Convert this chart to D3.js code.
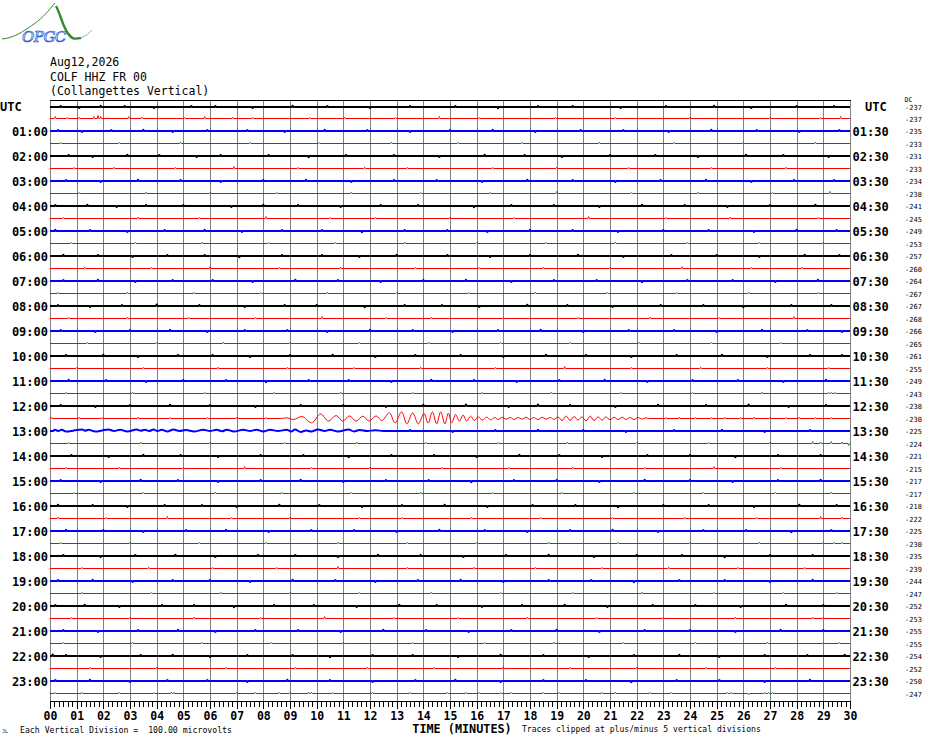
<!DOCTYPE html>
<html>
<head>
<meta charset="utf-8">
<script src="https://cdn.jsdelivr.net/npm/d3@7"></script>
<style>
  body { margin: 0; background: #fff; }
  svg { display: block; }
  text { font-family: "DejaVu Sans Mono", "Liberation Mono", monospace; fill: #000; }
</style>
</head>
<body>
<svg id="heli" width="930" height="744"></svg>
<script>
// Helicorder COLF HHZ : 48 traces de 30 minutes, une journée UTC.

const headerLines = ['Aug12,2026', 'COLF HHZ FR 00', '(Collangettes Vertical)'];
const hourLabels = ['UTC', '01:00', '02:00', '03:00', '04:00', '05:00', '06:00', '07:00', '08:00', '09:00', '10:00', '11:00',
  '12:00', '13:00', '14:00', '15:00', '16:00', '17:00', '18:00', '19:00', '20:00', '21:00', '22:00', '23:00'];
const halfHourLabels = ['UTC', '01:30', '02:30', '03:30', '04:30', '05:30', '06:30', '07:30', '08:30', '09:30', '10:30', '11:30',
  '12:30', '13:30', '14:30', '15:30', '16:30', '17:30', '18:30', '19:30', '20:30', '21:30', '22:30', '23:30'];
const dcOffsets = [-237, -237, -235, -233, -231, -233, -234, -238, -241, -245, -249, -253, -257, -260, -264, -267,
  -267, -268, -266, -265, -261, -255, -249, -243, -238, -230, -225, -224, -221, -215, -217, -217,
  -218, -222, -225, -230, -235, -239, -244, -247, -252, -253, -255, -255, -254, -252, -250, -247];
const traceColors = ['#000000', '#ff0000', '#0000ff', '#008000'];
const minuteTicks = d3.range(0, 31);

// petites impulsions de bruit par trace : [minute, microvolts]
const traceSpikes = [
  [[0.4,8],[1.1,-8],[1.9,10],[2.8,8],[3.9,-8],[5.3,8],[6.2,8],[7.6,-8],[9.1,10],[10.4,8],[12.0,-8],[13.5,8],[15.2,8],[16.8,-10],[18.3,8],[19.6,8],[21.4,-8],[23.1,8],[24.9,10],[26.3,-8],[28.0,8],[29.4,8]],
  [[0.2,16],[0.65,8],[1.1,10],[1.65,16],[1.8,24],[1.9,16],[2.95,16],[3.45,10],[5.05,8],[5.8,16],[6.85,10],[7.6,8],[9.75,8],[11.05,10],[12.95,8],[14.6,16],[16.1,8],[18.95,10],[21.2,8],[24.0,10],[27.0,8],[28.9,8],[29.65,16]],
  [[0.3,8],[1.2,-8],[2.3,8],[3.5,10],[4.6,-8],[5.9,8],[7.4,8],[8.8,-8],[10.3,10],[11.9,8],[13.5,-8],[15.0,8],[16.6,10],[18.2,-8],[19.9,8],[21.5,8],[23.2,-8],[24.8,10],[26.5,8],[28.1,-8],[29.6,8]],
  [[0.4,8],[2.6,8],[4.9,10],[7.5,8],[10.1,8],[12.8,10],[15.3,8],[17.7,8],[20.6,10],[23.4,8],[26.0,8],[28.7,10]],
  [[0.7,8],[1.6,-8],[2.9,10],[4.1,8],[5.5,-8],[6.4,8],[8.2,8],[9.7,-10],[11.1,8],[12.9,8],[14.6,-8],[16.3,10],[17.8,8],[19.2,-8],[21.0,8],[22.7,8],[24.3,-8],[26.1,10],[27.5,8],[29.2,-8]],
  [[0.9,8],[2.4,10],[4.7,8],[6.9,16],[9.3,8],[11.8,10],[13.4,8],[16.6,8],[19.0,10],[21.7,8],[24.8,8],[27.6,10]],
  [[0.6,8],[1.9,-8],[3.3,10],[4.9,8],[6.4,-8],[8.0,8],[9.6,10],[11.3,-8],[12.9,8],[14.5,8],[16.2,-8],[17.9,10],[19.6,8],[21.2,-8],[22.9,8],[24.6,10],[26.3,-8],[27.9,8],[29.4,8]],
  [[1.1,8],[3.6,10],[6.0,8],[8.5,8],[11.3,10],[13.9,8],[16.5,8],[19.0,16],[21.8,8],[24.3,10],[27.1,8],[29.25,16]],
  [[0.2,8],[1.4,10],[2.5,-8],[3.6,8],[5.0,8],[6.8,-8],[8.0,10],[9.3,8],[10.9,-8],[12.4,8],[13.8,8],[15.9,-10],[17.3,8],[18.9,8],[20.6,-8],[22.2,10],[23.8,8],[25.4,-8],[27.0,8],[28.7,10]],
  [[0.5,8],[3.3,10],[5.6,8],[8.1,16],[10.5,8],[12.2,8],[15.0,10],[17.4,8],[20.2,16],[23.1,8],[25.5,10],[28.8,8]],
  [[0.2,10],[1.5,8],[2.9,-8],[4.3,8],[5.8,10],[7.2,-8],[8.7,8],[10.2,8],[11.7,-10],[13.3,8],[14.9,8],[16.4,-8],[18.0,10],[19.6,8],[21.3,-8],[23.0,8],[24.7,8],[26.4,-8],[28.0,10],[29.5,8]],
  [[0.8,8],[3.2,8],[5.7,10],[8.2,8],[10.7,8],[13.3,10],[16.0,8],[18.6,8],[21.2,10],[23.9,8],[26.6,8],[29.0,10]],
  [[0.5,10],[1.8,8],[3.1,-8],[4.4,8],[5.8,8],[7.1,-10],[8.7,8],[10.2,8],[11.6,-8],[13.0,10],[14.9,8],[16.5,-8],[18.0,8],[19.8,10],[21.5,-8],[23.3,8],[25.0,8],[26.6,-8],[28.3,10],[29.6,8]],
  [[1.3,10],[3.8,8],[6.0,16],[8.6,8],[10.9,10],[13.7,8],[16.1,8],[18.5,10],[21.0,8],[23.7,16],[26.3,8],[28.2,10]],
  [[0.5,8],[1.8,10],[3.2,-8],[4.6,8],[6.1,8],[7.6,-8],[9.2,10],[10.8,8],[12.4,-8],[14.0,8],[15.6,10],[17.3,-8],[18.9,8],[20.5,8],[22.2,-10],[23.9,8],[25.6,8],[27.2,-8],[28.8,10]],
  [[0.3,8],[2.9,10],[5.4,8],[7.9,8],[10.4,10],[13.0,8],[15.7,8],[18.2,10],[20.9,8],[23.5,8],[26.2,10],[28.8,8]],
  [[0.3,8],[1.5,-8],[2.7,8],[4.0,12],[5.6,8],[7.3,-8],[8.8,8],[10.0,8],[11.8,-10],[13.3,8],[14.7,8],[16.1,-8],[17.9,10],[19.4,8],[21.1,-8],[22.9,8],[24.5,8],[26.0,-10],[27.8,8],[29.3,8]],
  [[0.7,8],[2.9,10],[5.2,8],[7.7,8],[10.2,16],[12.6,8],[14.3,10],[17.0,8],[19.8,8],[22.5,10],[25.1,8],[27.9,16]],
  [[0.4,8],[1.7,-8],[3.0,8],[4.5,10],[5.9,-8],[7.3,8],[8.9,8],[10.4,-8],[12.0,10],[13.6,8],[15.1,-8],[16.8,8],[18.4,10],[20.0,-8],[21.7,8],[23.4,8],[25.0,-8],[26.7,10],[28.4,8],[29.7,-8]],
  [[1.4,8],[4.0,8],[6.5,10],[9.0,8],[11.6,8],[14.2,10],[16.9,8],[19.5,8],[22.1,10],[24.8,8],[27.4,8]],
  [[0.6,8],[2.0,10],[3.3,-8],[4.8,8],[6.1,8],[7.5,-8],[9.0,8],[10.6,10],[12.2,-8],[13.7,8],[15.4,8],[17.0,-8],[18.6,10],[20.1,8],[21.8,-8],[23.5,8],[25.2,10],[26.9,-8],[28.5,8],[29.7,8]],
  [[1.0,8],[3.5,8],[6.3,10],[8.9,8],[11.4,8],[13.9,10],[16.7,8],[19.3,16],[21.8,8],[24.4,10],[26.9,8],[29.2,8]],
  [[0.7,10],[2.1,8],[3.6,-8],[5.0,8],[6.6,8],[8.1,-10],[9.7,8],[11.2,8],[12.8,-8],[14.3,10],[15.9,8],[17.5,-8],[19.1,8],[20.8,10],[22.4,-8],[24.1,8],[25.8,8],[27.5,-8],[29.1,10]],
  [[0.6,8],[3.1,10],[5.8,8],[8.4,8],[10.9,10],[13.6,8],[16.2,8],[18.8,10],[21.4,8],[24.1,8],[26.7,10],[29.2,8],[29.3,8],[29.45,8]],
  [[0.4,8],[1.7,-8],[3.0,8],[4.5,10],[6.0,8],[7.7,-8],[9.4,8],[11.0,8],[12.6,-8],[14.0,10],[15.6,12],[17.2,-8],[18.3,12],[19.5,8],[21.2,-8],[22.8,10],[24.6,8],[26.2,12],[27.7,-8],[29.1,8]],
  [[0.05,12],[1.1,10],[1.95,8],[3.3,10],[4.5,8],[5.9,8],[7.0,10],[8.1,8],[23.1,8],[23.6,10],[24.2,8],[24.8,8],[25.3,10],[25.9,8],[26.4,10],[27.0,8],[27.6,8],[28.1,10],[28.7,8],[29.3,8]],
  [[13.5,8],[15.1,-8],[16.7,8],[18.3,10],[20.0,8],[21.6,-8],[23.4,8],[25.2,10],[26.8,-8],[28.5,8]],
  [[0.7,8],[3.4,10],[6.0,8],[8.8,8],[11.5,10],[14.1,8],[16.8,8],[19.4,10],[22.0,8],[24.7,8],[27.0,10],[28.6,16],[28.9,12],[29.3,16],[29.7,12],[29.95,-16]],
  [[0.8,8],[2.2,-8],[3.5,10],[4.9,8],[6.3,-8],[7.9,8],[9.5,8],[11.2,-10],[12.8,8],[14.4,8],[16.0,-8],[17.6,10],[19.1,8],[20.7,-8],[22.4,8],[24.0,8],[25.7,-10],[27.3,8],[28.9,8]],
  [[0.6,8],[2.6,10],[5.0,8],[7.3,16],[9.8,8],[12.0,10],[14.7,8],[17.2,8],[19.6,10],[22.3,8],[24.9,16],[27.4,8]],
  [[0.4,8],[1.9,-8],[3.4,10],[4.8,8],[6.3,-8],[7.9,8],[9.4,10],[11.0,-8],[12.6,8],[14.2,8],[15.8,-10],[17.4,8],[19.0,8],[20.6,-8],[22.3,10],[24.0,8],[25.6,-8],[27.3,8],[28.9,10]],
  [[0.9,8],[3.5,8],[6.2,10],[8.7,8],[11.3,8],[13.9,10],[16.6,8],[19.2,8],[21.9,10],[24.5,8],[27.2,8],[29.3,12]],
  [[0.3,10],[1.6,8],[2.9,-8],[4.3,8],[5.7,8],[7.0,-8],[8.6,10],[10.1,8],[11.7,-8],[13.2,8],[14.8,10],[16.4,-8],[18.1,8],[19.7,8],[21.3,-10],[23.0,8],[24.7,8],[26.4,-8],[28.1,10],[29.5,8]],
  [[0.3,10],[2.1,8],[4.4,16],[6.8,8],[9.0,10],[11.6,8],[13.2,8],[15.8,10],[18.4,8],[21.1,8],[23.8,10],[26.5,8],[28.9,16],[29.7,10]],
  [[0.6,10],[2.0,8],[3.5,-8],[5.1,8],[6.6,10],[8.2,-8],[9.8,8],[11.4,8],[13.0,-8],[14.6,10],[16.3,8],[17.9,-8],[19.5,8],[21.1,10],[22.8,-8],[24.5,8],[26.1,8],[27.8,-10],[29.3,8]],
  [[0.4,8],[3.0,10],[5.6,8],[8.1,8],[10.8,10],[13.4,8],[16.0,8],[18.7,10],[21.3,8],[24.0,8],[26.6,10],[29.0,8],[29.4,8],[29.7,8]],
  [[0.5,8],[1.9,-8],[3.2,8],[4.7,10],[6.2,-8],[7.8,8],[9.2,8],[10.8,-8],[12.3,10],[13.9,8],[15.5,-8],[17.1,8],[18.7,10],[20.4,-8],[22.0,8],[23.7,8],[25.3,-10],[27.0,8],[28.6,8]],
  [[1.2,8],[3.7,10],[6.1,8],[8.5,8],[10.8,16],[13.4,8],[15.9,10],[18.2,8],[20.7,8],[23.2,10],[25.8,8],[28.3,8]],
  [[0.3,8],[1.6,10],[3.1,-8],[4.6,8],[6.0,8],[7.5,-8],[9.1,10],[10.7,8],[12.2,-8],[13.8,8],[15.4,10],[17.0,-8],[18.7,8],[20.3,8],[21.9,-10],[23.6,8],[25.3,8],[27.0,-8],[28.6,10]],
  [[1.2,8],[3.8,8],[6.4,10],[9.0,8],[11.6,8],[14.3,10],[16.9,8],[19.6,8],[22.2,10],[24.9,8],[27.5,8],[29.5,8]],
  [[0.2,8],[1.3,10],[2.6,-8],[4.2,8],[5.4,8],[6.9,-10],[8.4,8],[9.9,8],[11.5,-8],[13.1,10],[14.5,8],[16.2,-8],[17.7,8],[19.3,10],[20.9,-8],[22.6,8],[24.2,8],[25.9,-8],[27.6,10],[29.0,8]],
  [[0.8,8],[3.0,8],[5.4,10],[7.9,8],[10.3,16],[12.9,8],[15.3,8],[17.9,10],[20.5,8],[23.0,8],[25.7,10],[28.6,10],[29.0,10]],
  [[0.5,8],[1.8,-8],[3.3,8],[4.8,10],[6.2,-8],[7.7,8],[9.3,8],[10.9,-8],[12.5,10],[14.1,8],[15.7,-8],[17.3,8],[19.0,10],[20.6,-8],[22.3,8],[24.0,8],[25.7,-8],[27.4,10],[29.0,8]],
  [[0.5,8],[3.1,10],[5.7,8],[8.3,8],[11.0,10],[13.6,8],[16.3,8],[18.9,10],[21.5,8],[24.2,8],[26.9,10],[29.0,8],[29.6,8]],
  [[0.1,12],[0.6,8],[1.9,-8],[3.4,8],[4.6,10],[6.0,-8],[7.4,8],[9.1,8],[10.5,-10],[12.1,8],[13.6,8],[15.3,-8],[16.9,10],[18.5,8],[20.2,-8],[21.9,8],[23.6,10],[25.1,-8],[26.8,8],[28.4,8],[29.8,10]],
  [[1.5,8],[4.0,10],[6.6,8],[9.2,8],[11.9,10],[14.4,8],[17.0,16],[19.5,8],[22.0,10],[24.6,8],[27.2,8]],
  [[0.2,8],[1.5,10],[3.0,-8],[4.4,8],[5.9,8],[7.4,-8],[8.9,10],[10.5,8],[12.1,-8],[13.7,8],[15.2,10],[16.9,-8],[18.5,8],[20.1,8],[21.8,-10],[23.5,8],[25.1,8],[26.8,-8],[28.5,10]],
  [[0.19,8],[1.2,8],[2.6,8],[3.9,8],[4.55,10],[4.65,10],[7.0,10],[7.7,8],[8.6,8],[9.0,8],[9.7,10],[9.8,10],[10.6,8],[12.1,10],[13.5,8],[14.9,8],[15.6,8],[16.1,8],[16.9,8],[17.3,8],[18.5,8],[19.1,8],[20.7,8],[21.2,10],[22.5,8],[23.3,8],[25.4,8],[25.55,8],[26.2,-10],[26.8,8],[26.95,8],[27.1,8]]
];

const quakeRed = [
  [8.63,0],[8.88,5],[9.13,-8],[9.44,16],[9.81,-35],[10.15,37],[10.44,-21],[10.73,24],[10.98,-21],[11.23,21],
  [11.48,-21],[11.73,19],[11.96,-21],[12.23,21],[12.44,-16],[12.73,45],[12.94,-35],[13.19,53],[13.38,-43],[13.6,45],
  [13.81,-43],[14.03,40],[14.18,-37],[14.34,53],[14.5,-43],[14.65,53],[14.81,-43],[14.94,43],[15.06,-35],[15.21,32],
  [15.35,-21],[15.49,27],[15.63,-21],[15.77,19],[15.91,-16],[16.06,13],[16.21,-13],[16.38,11],[16.52,-11],[16.68,8],
  [16.8,-8],[16.96,10],[17.1,-5],[17.27,8],[17.4,-8],[17.56,8],[17.7,-5],[17.86,10],[18.0,-8],[18.13,8],
  [18.3,-8],[18.46,10],[18.6,-5],[18.77,8],[18.9,-8],[19.05,13],[19.2,-16],[19.36,19],[19.5,-16],[19.66,16],
  [19.8,-13],[19.94,13],[20.1,-19],[20.26,19],[20.4,-16],[20.56,13],[20.7,-13],[20.84,13],[21.0,-10],[21.16,10],
  [21.3,-8],[21.46,10],[21.6,-8],[21.74,8],[21.9,-8],[22.06,8],[22.2,-5],[22.34,5],[22.5,0]
];

// séisme : petites oscillations sur la trace 13:00 (bleue)
const quakeBlue = [
  [0.1,0],[0.19,10],[0.3,0],[0.44,10],[0.6,-4],[0.9,4],[1.2,12],[1.32,2],[1.44,10],[1.7,-4],
  [1.95,4],[2.19,12],[2.4,0],[2.63,10],[2.9,-4],[3.25,12],[3.4,2],[3.56,10],[3.72,0],[3.88,12],
  [4.03,0],[4.19,10],[4.4,-4],[4.63,12],[4.85,0],[5.1,8],[5.4,-4],[5.75,10],[6.0,0],[6.25,10],
  [6.45,-2],[6.63,10],[6.9,-4],[7.25,10],[7.5,0],[7.75,10],[8.0,-4],[8.25,10],[8.55,0],[8.88,10],
  [9.05,-4],[9.19,12],[9.4,-8],[9.6,4],[9.8,-4],[10.05,12],[10.3,0],[10.5,10],[10.8,-4],[11.2,12],
  [11.4,-4],[11.6,8],[11.9,0],[12.2,6],[12.5,0]
];
const waveByTrace = { 25: quakeRed, 26: quakeBlue };

const svg = d3.select('#heli');
const plotLeft = 50, plotRight = 850, plotTop = 100.5, axisY = 701;

const x = d3.scaleLinear().domain([0, 30]).range([plotLeft, plotRight]);
const traceY = d3.scaleLinear().domain([0, 47]).range([106.5, 693.5]);
// une division verticale = 100 µV = écart entre traces
const amp = d3.scaleLinear().domain([-100, 100]).range([12.5, -12.5]);

const isThick = i => i % 4 === 0 || i % 4 === 2;
// ligne de base calée sur la grille de pixels
const baseY = i => isThick(i) ? Math.round(traceY(i)) : Math.floor(traceY(i)) + 0.5;

// logo OPGC
const logo = svg.append('g').attr('class', 'logo');
logo.append('path')
  .attr('d', 'M2,39 C14,38 24,31 34,24 S48,11 55,3')
  .attr('fill', 'none').attr('stroke', '#2e8b2e').attr('stroke-width', 1);
logo.append('path')
  .attr('d', 'M56,6 C60,13 62,24 67,32 S75,39 81,38')
  .attr('fill', 'none').attr('stroke', '#2e8b2e').attr('stroke-width', 2.4);
logo.append('path')
  .attr('d', 'M81,38 Q87,36 92,30')
  .attr('fill', 'none').attr('stroke', '#8cc08c').attr('stroke-width', 1);
logo.append('text')
  .attr('x', 22).attr('y', 42)
  .style('font-family', '"DejaVu Serif", serif')
  .style('font-style', 'italic')
  .style('font-size', '15px')
  .style('letter-spacing', '-0.5px')
  .style('fill', '#dfe8ff')
  .style('stroke', '#2a55d0')
  .style('stroke-width', 0.7)
  .text('OPGC');

// entête
svg.append('g')
  .selectAll('text')
  .data(headerLines)
  .join('text')
  .attr('x', 50)
  .attr('y', (d, i) => [66, 81, 95][i])
  .style('font-size', '11.5px')
  .text(d => d);

// grille des minutes
svg.append('g')
  .selectAll('line')
  .data(minuteTicks)
  .join('line')
  .attr('x1', d => Math.round(x(d)) + 0.5)
  .attr('x2', d => Math.round(x(d)) + 0.5)
  .attr('y1', plotTop)
  .attr('y2', axisY)
  .attr('stroke', '#808080')
  .attr('stroke-width', 1)
  .attr('shape-rendering', 'crispEdges');

svg.append('line')
  .attr('x1', plotLeft).attr('x2', plotRight + 1)
  .attr('y1', plotTop).attr('y2', plotTop)
  .attr('stroke', '#000')
  .attr('shape-rendering', 'crispEdges');

// traces
const line = d3.line()
  .x(d => x(d[0]))
  .curve(d3.curveMonotoneX);

const traces = d3.range(48).map(i => {
  const pts = [[0, 0], [30, 0]];
  traceSpikes[i].forEach(([t, a]) => {
    pts.push([t - 0.03, 0], [t, a], [t + 0.03, 0]);
  });
  (waveByTrace[i] || []).forEach(p => pts.push(p));
  pts.sort((a, b) => a[0] - b[0]);
  return { index: i, points: pts };
});

svg.append('g')
  .attr('class', 'traces')
  .selectAll('path')
  .data(traces)
  .join('path')
  .attr('d', tr => line.y(d => baseY(tr.index) + amp(d[1]))(tr.points))
  .attr('fill', 'none')
  .attr('stroke', tr => traceColors[tr.index % 4])
  .attr('stroke-width', tr => isThick(tr.index) ? 2 : 1);

// étiquettes horaires gauche / droite
const hourRows = d3.range(0, 48, 2);
svg.append('g')
  .selectAll('text')
  .data(hourRows)
  .join('text')
  .attr('x', (d, i) => i === 0 ? 0 : 48)
  .attr('y', d => traceY(d) + 4.8)
  .attr('text-anchor', (d, i) => i === 0 ? 'start' : 'end')
  .style('font-size', '12px')
  .style('font-weight', 'bold')
  .text((d, i) => hourLabels[i]);

svg.append('g')
  .selectAll('text')
  .data(hourRows)
  .join('text')
  .attr('x', (d, i) => i === 0 ? 865 : 852.5)
  .attr('y', d => traceY(d) + 4.8)
  .style('font-size', '12px')
  .style('font-weight', 'bold')
  .text((d, i) => halfHourLabels[i]);

// niveaux DC
svg.append('g')
  .selectAll('text')
  .data(dcOffsets)
  .join('text')
  .attr('x', 905)
  .attr('y', (d, i) => traceY(i) + 3)
  .style('font-size', '7px')
  .text(d => d);

svg.append('text')
  .attr('x', 904.5).attr('y', 102)
  .style('font-size', '6.5px')
  .text('DC');

// axe du temps
const minorAxis = d3.axisBottom(x)
  .tickValues(d3.range(0, 181).map(k => k / 6))
  .tickSize(6)
  .tickSizeOuter(0)
  .tickFormat('');

const majorAxis = d3.axisBottom(x)
  .tickValues(minuteTicks)
  .tickSize(8)
  .tickSizeOuter(0)
  .tickPadding(3)
  .tickFormat(d3.format('02d'));

svg.append('g')
  .attr('transform', `translate(0,${axisY})`)
  .attr('shape-rendering', 'crispEdges')
  .call(minorAxis)
  .call(g => g.select('.domain').attr('stroke', '#000'));

svg.append('g')
  .attr('transform', `translate(0,${axisY})`)
  .attr('shape-rendering', 'crispEdges')
  .call(majorAxis)
  .call(g => g.select('.domain').remove())
  .call(g => g.selectAll('text')
    .style('font-family', '"DejaVu Sans Mono", monospace')
    .style('font-size', '11.5px')
    .style('font-weight', 'bold')
    .attr('fill', '#000'));

// légendes du bas
svg.append('text')
  .attr('x', 462).attr('y', 733)
  .attr('text-anchor', 'middle')
  .style('font-size', '11.8px')
  .style('font-weight', 'bold')
  .text('TIME (MINUTES)');

svg.append('text')
  .attr('x', 20).attr('y', 733)
  .attr('xml:space', 'preserve')
  .style('white-space', 'pre')
  .style('font-size', '8.2px')
  .text('Each Vertical Division =  100.00 microvolts');

svg.append('text')
  .attr('x', 522).attr('y', 732)
  .style('font-size', '8.1px')
  .text('Traces clipped at plus/minus 5 vertical divisions');

svg.append('text')
  .attr('x', 2).attr('y', 733)
  .style('font-size', '5px')
  .text('JL');
</script>
</body>
</html>
